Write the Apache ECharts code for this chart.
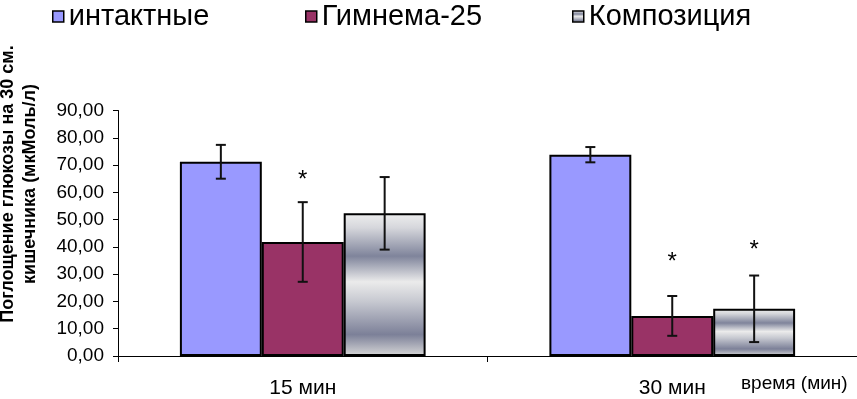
<!DOCTYPE html>
<html>
<head>
<meta charset="utf-8">
<script src="https://cdn.jsdelivr.net/npm/echarts@6/dist/echarts.min.js"></script>
<style>html,body{margin:0;padding:0;background:#fff}#c{width:857px;height:399px}</style>
</head>
<body>
<div id="c"></div>
<script>
var categories = ['15 мин', '30 мин'];
var seriesNames = ['интактные', 'Гимнема-25', 'Композиция'];
var intact = [71.2, 73.8];
var gymnema = [41.8, 14.7];
var composition = [52.3, 17.3];
var intactErr = [6.2, 2.8];
var gymnemaErr = [14.6, 7.3];
var compositionErr = [13.3, 12.2];
// asterisk markers: [categoryIndex, seriesIndex, value]
var stars = [[0, 1, 66.4], [1, 1, 36.2], [1, 2, 40.6]];
var yTicks = [0, 10, 20, 30, 40, 50, 60, 70, 80, 90];
var yTitle = 'Поглощение глюкозы на 30 см.\nкишечника (мкМоль/л)';
var xName = 'время (мин)';

var chart = echarts.init(document.getElementById('c'), null, {renderer: 'canvas'});
var values = [intact, gymnema, composition];
var errs = [intactErr, gymnemaErr, compositionErr];
var GAP = 0.335;
var FONT = '"Liberation Sans", Arial, sans-serif';

var grayGrad = new echarts.graphic.LinearGradient(0, 0, 0, 1, [
  {offset: 0, color: '#eeeeee'},
  {offset: 0.1, color: '#d6d7dc'},
  {offset: 0.3, color: '#7f849b'},
  {offset: 0.48, color: '#ebebeb'},
  {offset: 0.62, color: '#c6c8d0'},
  {offset: 0.85, color: '#7c8098'},
  {offset: 1, color: '#d8d8d8'}
]);
var colors = ['#9999ff', '#993366', grayGrad];

var series = [];
seriesNames.forEach(function (n, i) {
  series.push({
    name: n, type: 'bar', data: values[i],
    barGap: '0%', barCategoryGap: (GAP * 100) + '%',
    itemStyle: {color: colors[i], borderColor: '#000', borderWidth: 2},
    z: 2
  });
});

function barOffset(api, si) {
  var cw = api.size([1, 0])[0];
  var bw = cw * (1 - GAP) / 3;
  return (si - 1) * bw;
}

seriesNames.forEach(function (n, si) {
  series.push({
    type: 'custom', name: n + '_err',
    data: values[si].map(function (v, ci) { return [ci, v - errs[si][ci], v + errs[si][ci]]; }),
    renderItem: function (params, api) {
      var ci = api.value(0);
      var lo = api.coord([ci, api.value(1)]);
      var hi = api.coord([ci, api.value(2)]);
      var x = lo[0] + barOffset(api, si);
      var cap = 5;
      var st = {stroke: '#111', lineWidth: 2};
      return {type: 'group', children: [
        {type: 'line', shape: {x1: x, y1: lo[1], x2: x, y2: hi[1]}, style: st},
        {type: 'line', shape: {x1: x - cap, y1: lo[1], x2: x + cap, y2: lo[1]}, style: st},
        {type: 'line', shape: {x1: x - cap, y1: hi[1], x2: x + cap, y2: hi[1]}, style: st}
      ]};
    },
    z: 5
  });
});

series.push({
  type: 'custom', name: 'stars',
  data: stars,
  renderItem: function (params, api) {
    var p = api.coord([api.value(0), api.value(2)]);
    var x = p[0] + barOffset(api, api.value(1));
    return {type: 'text', style: {text: '*', x: x, y: p[1] + 5, fill: '#000',
      font: '24px ' + FONT, textAlign: 'center', textVerticalAlign: 'middle'}};
  },
  z: 6
});

var legendPos = [52, 305, 572];
var legends = seriesNames.map(function (n, i) {
  return {
    data: [n], left: legendPos[i], top: 2, padding: 0,
    itemWidth: 11, itemHeight: 11, icon: 'rect',
    itemStyle: {borderColor: '#000', borderWidth: 1.5},
    textStyle: {fontFamily: FONT, fontSize: 29, color: '#000'},
    selectedMode: false
  };
});

chart.setOption({
  animation: false,
  backgroundColor: '#fff',
  legend: legends,
  grid: {left: 118, right: 0, top: 110.5, bottom: 41.5, containLabel: false},
  xAxis: {
    type: 'category', data: categories,
    axisLine: {lineStyle: {color: '#000', width: 1}},
    axisTick: {show: true, length: 6, lineStyle: {color: '#000'}},
    axisLabel: {color: '#000', fontSize: 21, margin: 22, fontFamily: FONT}
  },
  yAxis: {
    type: 'value', min: 0, max: 90, interval: 10,
    splitLine: {show: false},
    axisLine: {show: true, lineStyle: {color: '#000', width: 1}},
    axisTick: {show: true, length: 5, lineStyle: {color: '#000'}},
    axisLabel: {color: '#000', fontSize: 19, margin: 14, fontFamily: FONT,
      formatter: function (v) { return v.toFixed(2).replace('.', ','); }}
  },
  graphic: [
    {type: 'text', left: 741, top: 374, style: {text: xName, fill: '#000',
      font: '19px ' + FONT}},
    {type: 'text', x: 19, y: 184, rotation: Math.PI / 2, style: {text: yTitle, fill: '#000',
      font: 'bold 18px ' + FONT, textAlign: 'center', textVerticalAlign: 'middle', lineHeight: 22}}
  ],
  series: series
});
</script>
</body>
</html>
